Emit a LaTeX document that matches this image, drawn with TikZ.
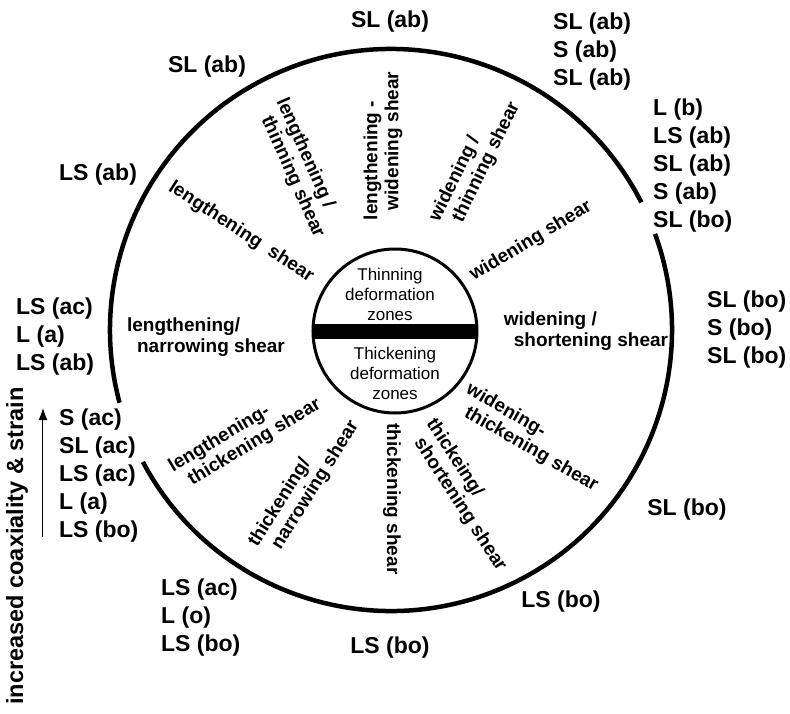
\documentclass[tikz,border=0pt]{standalone}
\usepackage{fontspec}
\setmainfont{Liberation Sans}
\usepackage{tikz}
\usetikzlibrary{arrows.meta}

\newcommand{\shearbreak}{\\\hspace*{10pt}}

\tikzset{
    rim/.style={line width=4.5pt},
    hub/.style={line width=3pt},
    sitelabel/.style={
        font=\bfseries\fontsize{23}{28}\selectfont,
        align=left,
        inner sep=0pt
    },
    shearlabel/.style={
        font=\bfseries\fontsize{19}{21}\selectfont,
        align=left,
        inner sep=0pt
    },
    zonelabel/.style={
        font=\fontsize{17}{20}\selectfont,
        align=center,
        inner sep=0pt
    }
}

\begin{document}
\begin{tikzpicture}[x=1pt, y=1pt]

    \useasboundingbox (-391,-383) rectangle (399,330);

    % outer ring, broken where the site labels sit
    \draw[rim] (27:281) arc[start angle=27, end angle=195, radius=281];
    \draw[rim] (208:281) arc[start angle=208, end angle=380, radius=281];

    % centre disc with the dividing bar
    \coordinate (hubc) at (4,-1);
    \begin{scope}
        \clip (hubc) circle[radius=82];
        \fill (-80,-9) rectangle (88,6);
    \end{scope}
    \draw[hub] (hubc) circle[radius=82];

    \node[zonelabel] (thinzone) at (-1,36) {Thinning\\deformation\\zones};
    \node[zonelabel] (thickzone) at (4,-43) {Thickening\\deformation\\zones};

    % shear fields round the disc
    \node[shearlabel, rotate=-66] (lenthin) at (-91,162) {lengthening /\shearbreak thinning shear};
    \node[shearlabel, rotate=90] (lenwid) at (-8,184) {lengthening -\shearbreak widening shear};
    \node[shearlabel, rotate=64] (widthin) at (84,168) {widening /\shearbreak thinning shear};
    \node[shearlabel, rotate=31] (wid) at (140,89) {widening shear};
    \node[shearlabel] (widshort) at (195,-1) {widening /\shearbreak shortening shear};
    \node[shearlabel, rotate=-30] (widthick) at (141,-108) {widening-\shearbreak thickening shear};
    \node[shearlabel, rotate=-57] (thickshort) at (75,-165) {thickeing/\shearbreak shortening shear};
    \node[shearlabel, rotate=-90] (thick) at (1,-169) {thickening shear};
    \node[shearlabel, rotate=58] (thicknarrow) at (-87,-154) {thickening/\shearbreak narrowing shear};
    \node[shearlabel, rotate=31] (lenthick) at (-146,-106) {lengthening-\shearbreak thickening shear};
    \node[shearlabel] (lennarrow) at (-185,-7) {lengthening/\shearbreak narrowing shear};
    \node[shearlabel, rotate=-33] (len) at (-150,98) {lengthening~~shear};

    % sites outside the ring
    \node[sitelabel] (sitetop) at (-1,308) {SL (ab)};
    \node[sitelabel] (siteupleft) at (-184,263) {SL (ab)};
    \node[sitelabel] (siteleft) at (-293,155) {LS (ab)};
    \node[sitelabel, anchor=west] (sitea) at (162,278) {SL (ab)\\S (ab)\\SL (ab)};
    \node[sitelabel, anchor=west] (siteb) at (262,164) {L (b)\\LS (ab)\\SL (ab)\\S (ab)\\SL (bo)};
    \node[sitelabel, anchor=west] (sitec) at (316,0) {SL (bo)\\S (bo)\\SL (bo)};
    \node[sitelabel] (sitelowright) at (296,-180) {SL (bo)};
    \node[sitelabel] (sitebotright) at (170,-272) {LS (bo)};
    \node[sitelabel] (sitebot) at (-1,-318) {LS (bo)};
    \node[sitelabel, anchor=west] (sited) at (-230,-288) {LS (ac)\\L (o)\\LS (bo)};
    \node[sitelabel, anchor=west] (sitee) at (-375,-7) {LS (ac)\\L (a)\\LS (ab)};
    \node[sitelabel, anchor=west] (sitef) at (-332,-146) {S (ac)\\SL (ac)\\LS (ac)\\L (a)\\LS (bo)};

    % trend arrow
    \node[sitelabel, font=\bfseries\fontsize{23.5}{28}\selectfont, rotate=90] (trend) at (-374,-216) {increased coaxiality \& strain};
    \coordinate (trendtail) at (-348,-207);
    \coordinate (trendtip) at (-348,-78);
    \draw[-{Latex[length=12pt,width=9pt]}, line width=1pt] (trendtail) -- (trendtip);

\end{tikzpicture}
\end{document}
